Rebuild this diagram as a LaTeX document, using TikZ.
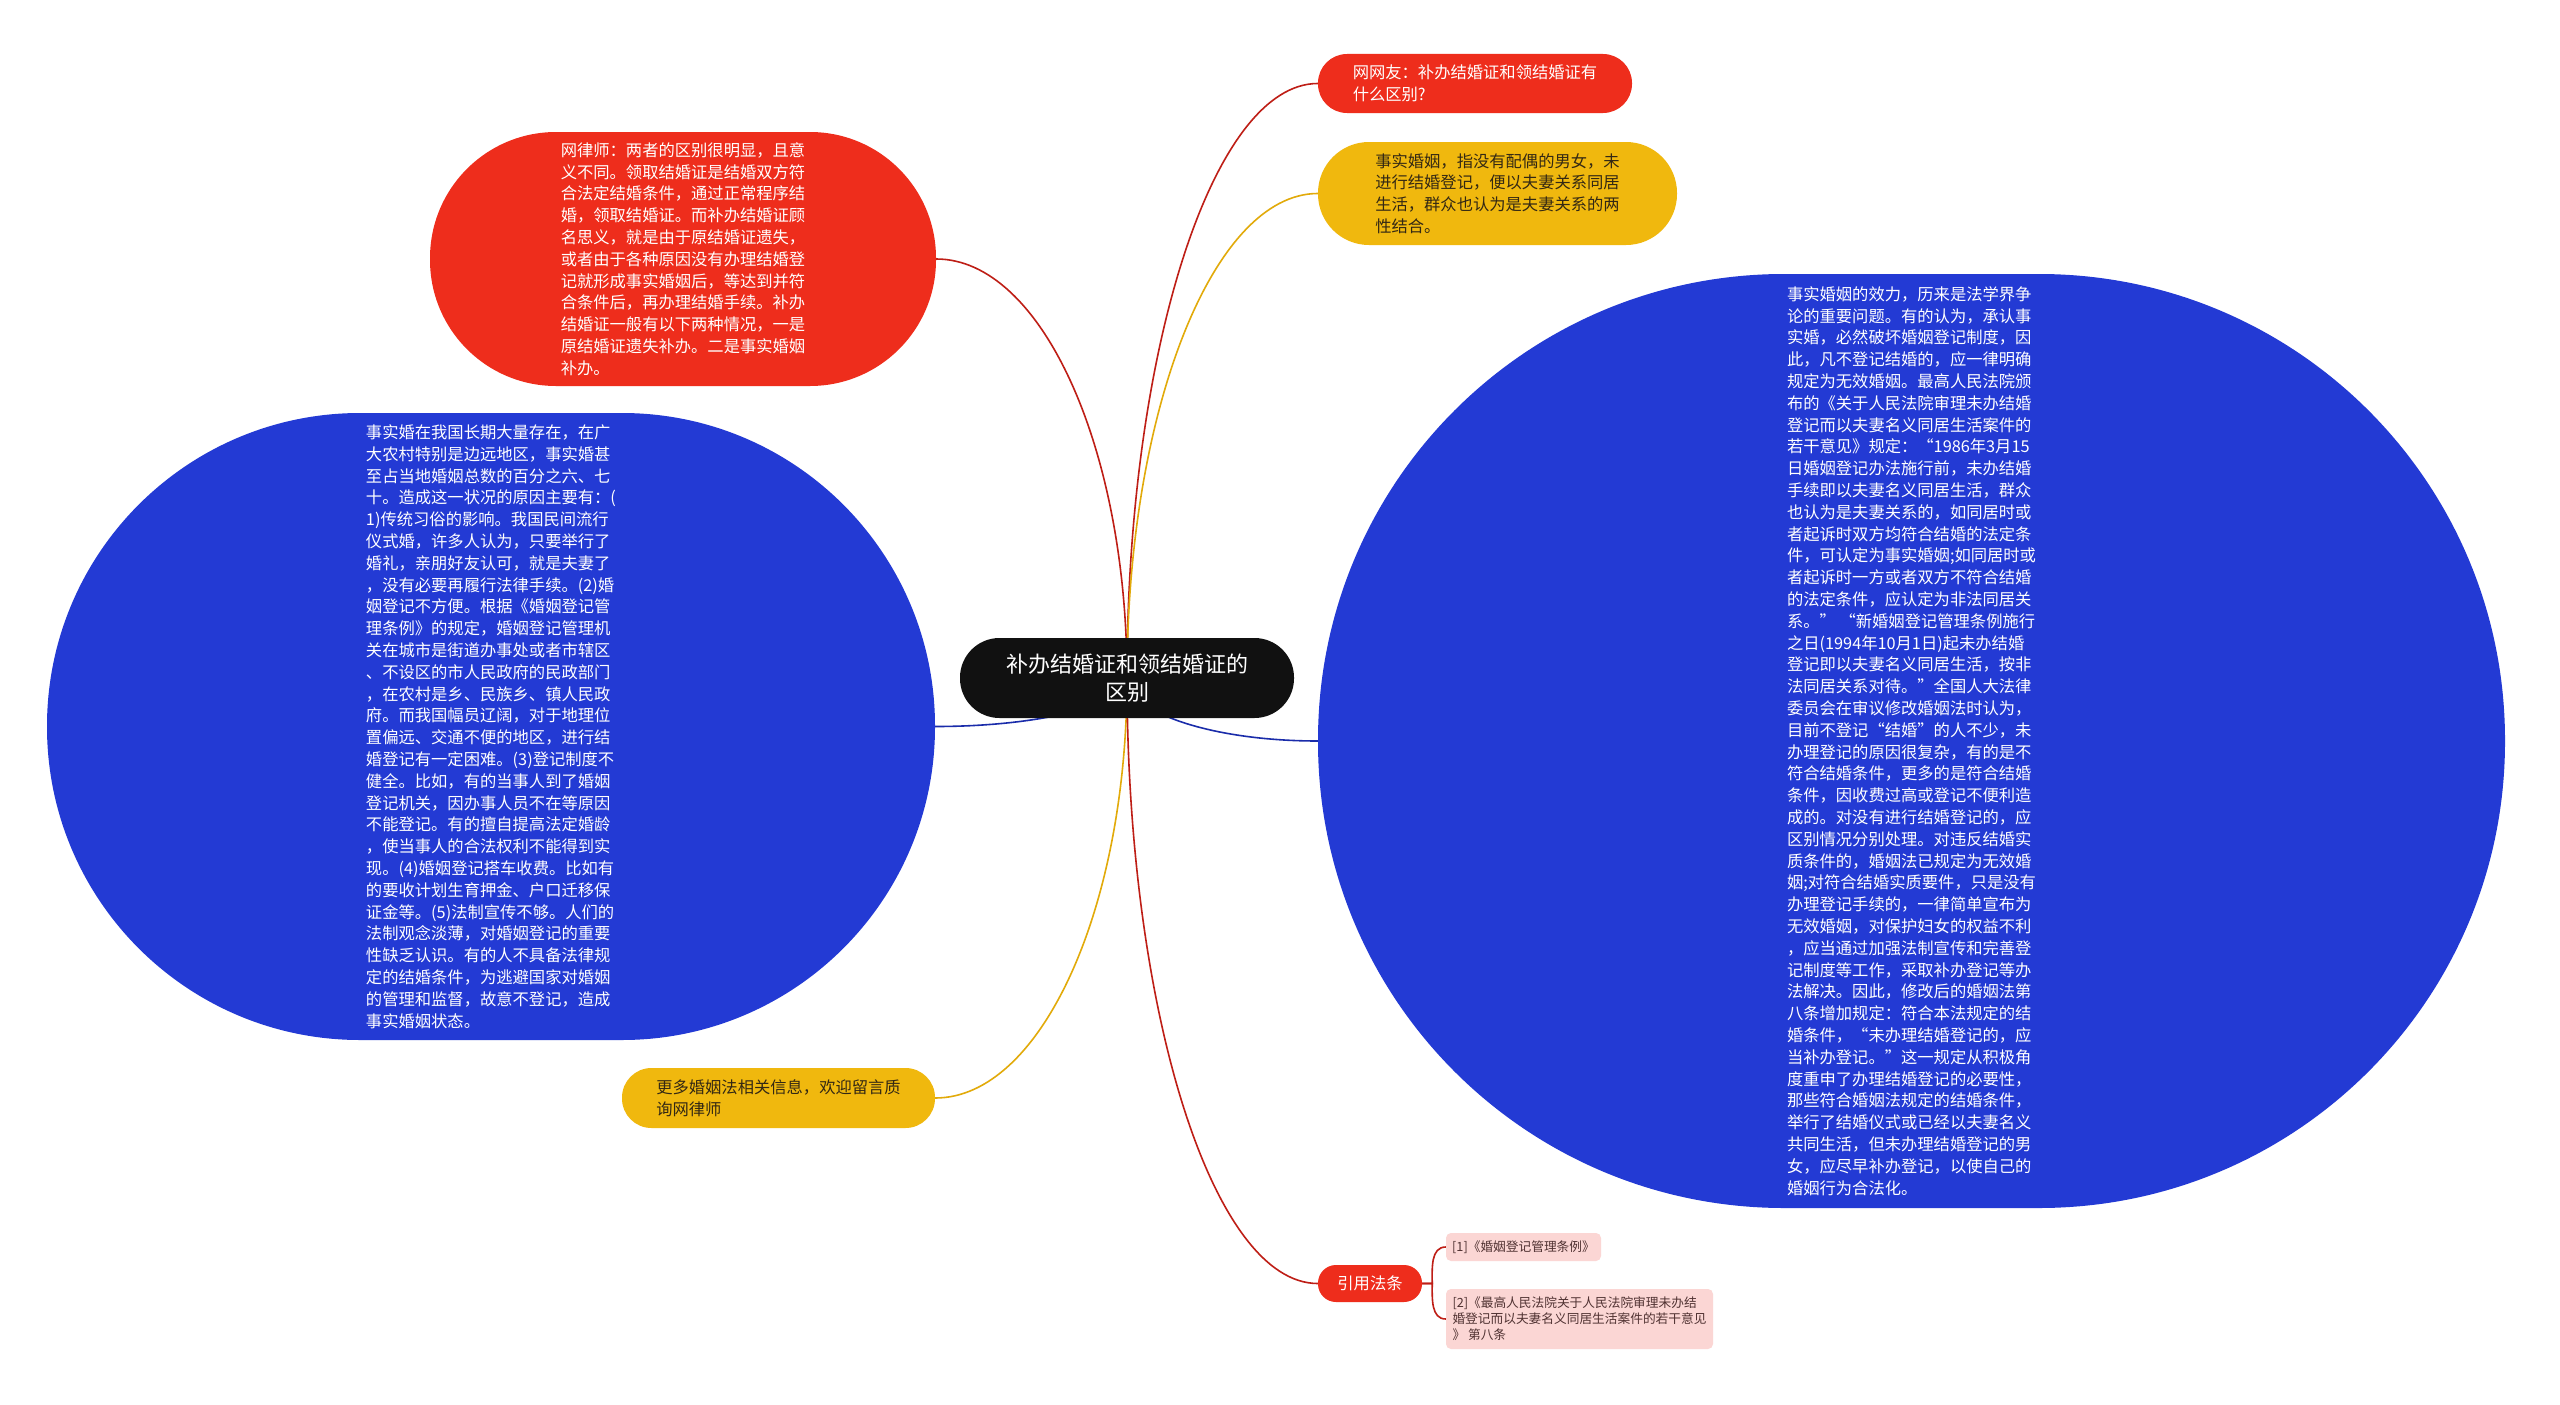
\documentclass[tikz,border=0pt]{standalone}
\usepackage{fontspec}
\setmainfont{Noto Sans CJK SC}
\usepackage{tikz}
\usetikzlibrary{calc,backgrounds}
\definecolor{mapred}{RGB}{238,45,28}
\definecolor{mapblue}{RGB}{35,58,212}
\definecolor{mapgold}{RGB}{240,184,14}
\definecolor{mappink}{RGB}{251,214,212}
\definecolor{rootblack}{RGB}{17,17,17}
\definecolor{linered}{RGB}{190,30,22}
\definecolor{lineblue}{RGB}{26,44,170}
\definecolor{linegold}{RGB}{226,170,10}
\definecolor{inkdark}{RGB}{51,40,20}
\definecolor{inkpink}{RGB}{80,50,50}

% branch curve: vertical out of the root, horizontal into the topic
\newcommand{\branchline}[3]{%
  \draw[#1] (#2) .. controls ($(#2)!0.55!(#2|-#3)$) and ($(#3)!0.55!(#2|-#3)$) .. (#3);}

\begin{document}
\begin{tikzpicture}[x=1pt, y=1pt,
    body/.style={font=\fontsize{16.3}{21.8}\selectfont, align=left, inner sep=0pt},
    blob/.style={body, rectangle, fill=#1, text=white},
    goldblob/.style={body, rectangle, fill=mapgold, text=inkdark},
    refbox/.style={font=\fontsize{12.7}{16}\selectfont, align=left, inner sep=0pt,
      fill=mappink, text=inkpink, rounded corners=5pt},
    link/.style={line width=1.6pt, line cap=round}]
    \useasboundingbox (0,0) rectangle (2560,-1405);

    % root
    \node[fill=rootblack, text=white, font=\fontsize{22}{28}\selectfont, align=center,
      inner sep=0pt, minimum width=334pt, minimum height=80pt, rounded corners=39.5pt]
      (root) at (1127,-678) {补办结婚证和领结婚证的\\区别};

    % left side
    \node[blob=mapred, minimum width=506pt, minimum height=254pt, rounded corners=126pt]
      (lawyer) at (683,-259) {网律师：两者的区别很明显，且意\\义不同。领取结婚证是结婚双方符\\合法定结婚条件，通过正常程序结\\婚，领取结婚证。而补办结婚证顾\\名思义，就是由于原结婚证遗失，\\或者由于各种原因没有办理结婚登\\记就形成事实婚姻后，等达到并符\\合条件后，再办理结婚手续。补办\\结婚证一般有以下两种情况，一是\\原结婚证遗失补办。二是事实婚姻\\补办。};
    \node[blob=mapblue, minimum width=888pt, minimum height=627pt, rounded corners=313pt]
      (causes) at (491,-726.5) {事实婚在我国长期大量存在，在广\\大农村特别是边远地区，事实婚甚\\至占当地婚姻总数的百分之六、七\\十。造成这一状况的原因主要有：(\\1)传统习俗的影响。我国民间流行\\仪式婚，许多人认为，只要举行了\\婚礼，亲朋好友认可，就是夫妻了\\，没有必要再履行法律手续。(2)婚\\姻登记不方便。根据《婚姻登记管\\理条例》的规定，婚姻登记管理机\\关在城市是街道办事处或者市辖区\\、不设区的市人民政府的民政部门\\，在农村是乡、民族乡、镇人民政\\府。而我国幅员辽阔，对于地理位\\置偏远、交通不便的地区，进行结\\婚登记有一定困难。(3)登记制度不\\健全。比如，有的当事人到了婚姻\\登记机关，因办事人员不在等原因\\不能登记。有的擅自提高法定婚龄\\，使当事人的合法权利不能得到实\\现。(4)婚姻登记搭车收费。比如有\\的要收计划生育押金、户口迁移保\\证金等。(5)法制宣传不够。人们的\\法制观念淡薄，对婚姻登记的重要\\性缺乏认识。有的人不具备法律规\\定的结婚条件，为逃避国家对婚姻\\的管理和监督，故意不登记，造成\\事实婚姻状态。};
    \node[goldblob, minimum width=313pt, minimum height=60pt, rounded corners=29.5pt]
      (more) at (778.5,-1098) {更多婚姻法相关信息，欢迎留言质\\询网律师};

    % right side
    \node[blob=mapred, minimum width=314pt, minimum height=59pt, rounded corners=29pt]
      (question) at (1475,-83.5) {网网友：补办结婚证和领结婚证有\\什么区别?};
    \node[goldblob, minimum width=359pt, minimum height=103pt, rounded corners=51pt]
      (define) at (1497.5,-193.5) {事实婚姻，指没有配偶的男女，未\\进行结婚登记，便以夫妻关系同居\\生活，群众也认为是夫妻关系的两\\性结合。};
    \node[blob=mapblue, minimum width=1187pt, minimum height=934pt, rounded corners=466pt]
      (effect) at (1911.5,-741) {事实婚姻的效力，历来是法学界争\\论的重要问题。有的认为，承认事\\实婚，必然破坏婚姻登记制度，因\\此，凡不登记结婚的，应一律明确\\规定为无效婚姻。最高人民法院颁\\布的《关于人民法院审理未办结婚\\登记而以夫妻名义同居生活案件的\\若干意见》规定：“1986年3月15\\日婚姻登记办法施行前，未办结婚\\手续即以夫妻名义同居生活，群众\\也认为是夫妻关系的，如同居时或\\者起诉时双方均符合结婚的法定条\\件，可认定为事实婚姻;如同居时或\\者起诉时一方或者双方不符合结婚\\的法定条件，应认定为非法同居关\\系。” “新婚姻登记管理条例施行\\之日(1994年10月1日)起未办结婚\\登记即以夫妻名义同居生活，按非\\法同居关系对待。”全国人大法律\\委员会在审议修改婚姻法时认为，\\目前不登记“结婚”的人不少，未\\办理登记的原因很复杂，有的是不\\符合结婚条件，更多的是符合结婚\\条件，因收费过高或登记不便利造\\成的。对没有进行结婚登记的，应\\区别情况分别处理。对违反结婚实\\质条件的，婚姻法已规定为无效婚\\姻;对符合结婚实质要件，只是没有\\办理登记手续的，一律简单宣布为\\无效婚姻，对保护妇女的权益不利\\，应当通过加强法制宣传和完善登\\记制度等工作，采取补办登记等办\\法解决。因此，修改后的婚姻法第\\八条增加规定：符合本法规定的结\\婚条件，“未办理结婚登记的，应\\当补办登记。”这一规定从积极角\\度重申了办理结婚登记的必要性，\\那些符合婚姻法规定的结婚条件，\\举行了结婚仪式或已经以夫妻名义\\共同生活，但未办理结婚登记的男\\女，应尽早补办登记，以使自己的\\婚姻行为合法化。};
    \node[blob=mapred, minimum width=104pt, minimum height=37pt, rounded corners=18pt]
      (cite) at (1370,-1283.5) {引用法条};
    \node[refbox, minimum width=155pt, minimum height=28pt] (ref1) at (1523.5,-1247)
      {[1]《婚姻登记管理条例》};
    \node[refbox, minimum width=267pt, minimum height=60pt] (ref2) at (1579.5,-1319)
      {[2]《最高人民法院关于人民法院审理未办结\\婚登记而以夫妻名义同居生活案件的若干意见\\》 第八条};

    % connectors behind the topics
    \begin{scope}[on background layer]
      \fill[white] (0,0) rectangle (2560,-1405);
      \branchline{link,linered}{root.center}{lawyer.east}
      \branchline{link,lineblue}{root.center}{causes.east}
      \branchline{link,linegold}{root.center}{more.east}
      \branchline{link,linered}{root.center}{question.west}
      \branchline{link,linegold}{root.center}{define.west}
      \branchline{link,lineblue}{root.center}{effect.west}
      \branchline{link,linered}{root.center}{cite.west}
      \draw[link,linered] (cite.east) -- ++(10,0) to[out=90,in=180] (ref1.west);
      \draw[link,linered] (cite.east) -- ++(10,0) to[out=-90,in=180] (ref2.west);
    \end{scope}
\end{tikzpicture}
\end{document}
